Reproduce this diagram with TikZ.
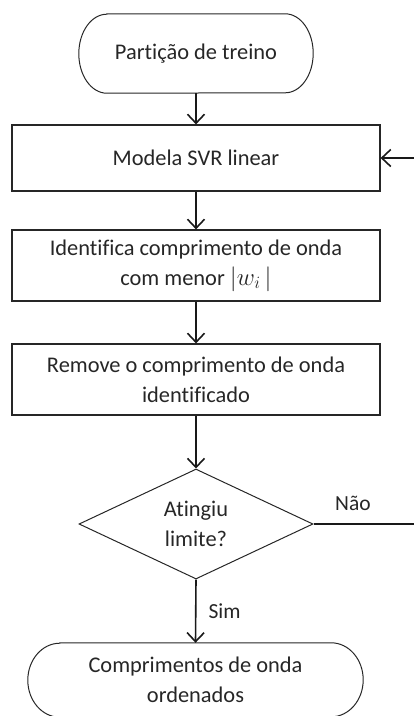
\documentclass[tikz,border=0pt]{standalone}
\usepackage{fontspec}
\setmainfont{Carlito}[Ligatures=NoCommon]
\usetikzlibrary{arrows.meta,shapes.geometric,calc}
\begin{document}
\begin{tikzpicture}[x=1pt,y=-1pt,
  every node/.style={font=\fontsize{22.4}{30}\selectfont, text=black!85},
  procbox/.style={draw=black!85, line width=1.2pt, rectangle, minimum width=368pt, minimum height=#1, align=center, inner sep=0pt},
  decbox/.style={draw=black!85, line width=1pt, diamond, minimum width=234pt, minimum height=110pt, inner sep=0pt, aspect=2.13, align=center},
  termtxt/.style={align=center, inner sep=0pt},
  conn/.style={draw=black!90, line width=1.6pt, -{Straight Barb[length=9pt,width=17pt,line width=1.6pt]}},
  plain/.style={draw=black!90, line width=1.6pt},
  lbl/.style={font=\fontsize{21.5}{25}\selectfont, inner sep=0pt}
]
\useasboundingbox (0,0) rectangle (414,716);
\clip (0,0) rectangle (414,716);

% start terminator
\node[termtxt, minimum width=234pt, minimum height=79pt] (start) at (196,53.5) {Partição de treino};
\draw[black!85, line width=1pt]
  ([xshift=28pt]start.north west) -- ([xshift=-28pt]start.north east)
  arc[start angle=90, end angle=-90, x radius=28pt, y radius=39.5pt]
  -- ([xshift=28pt]start.south west)
  arc[start angle=270, end angle=90, x radius=28pt, y radius=39.5pt] -- cycle;

\node[procbox=66pt] (b1) at (196,158) {Modela SVR linear};
\node[procbox=71pt] (b2) at (196,265.5) {Identifica comprimento de onda\\com menor {\fontsize{26}{30}\selectfont$|w_i\,|$}};
\node[procbox=71pt] (b3) at (196,379.5) {Remove o comprimento de onda\\identificado};
\node[decbox] (d) at (196,524) {Atingiu\\limite?};

% end terminator
\node[termtxt, minimum width=335pt, minimum height=74pt] (end) at (195.5,680) {Comprimentos de onda\\ordenados};
\draw[black!85, line width=1pt]
  ([xshift=32pt]end.north west) -- ([xshift=-32pt]end.north east)
  arc[start angle=90, end angle=-90, x radius=32pt, y radius=37pt]
  -- ([xshift=32pt]end.south west)
  arc[start angle=270, end angle=90, x radius=32pt, y radius=37pt] -- cycle;

\draw[conn] (start.south) -- (b1.north);
\draw[conn] (b1.south) -- (b2.north);
\draw[conn] (b2.south) -- (b3.north);
\draw[conn] (b3.south) -- (d.north);
\draw[conn] (d.south) -- node[lbl, right=12pt] {Sim} (end.north);

\coordinate (c1) at (422,524);
\coordinate (c2) at (422,158);
\draw[plain] (d.east) -- (c1) -- (c2);
\draw[conn] (c2) -- (b1.east);
\node[lbl] (nao) at (353,503) {Não};
\end{tikzpicture}
\end{document}
